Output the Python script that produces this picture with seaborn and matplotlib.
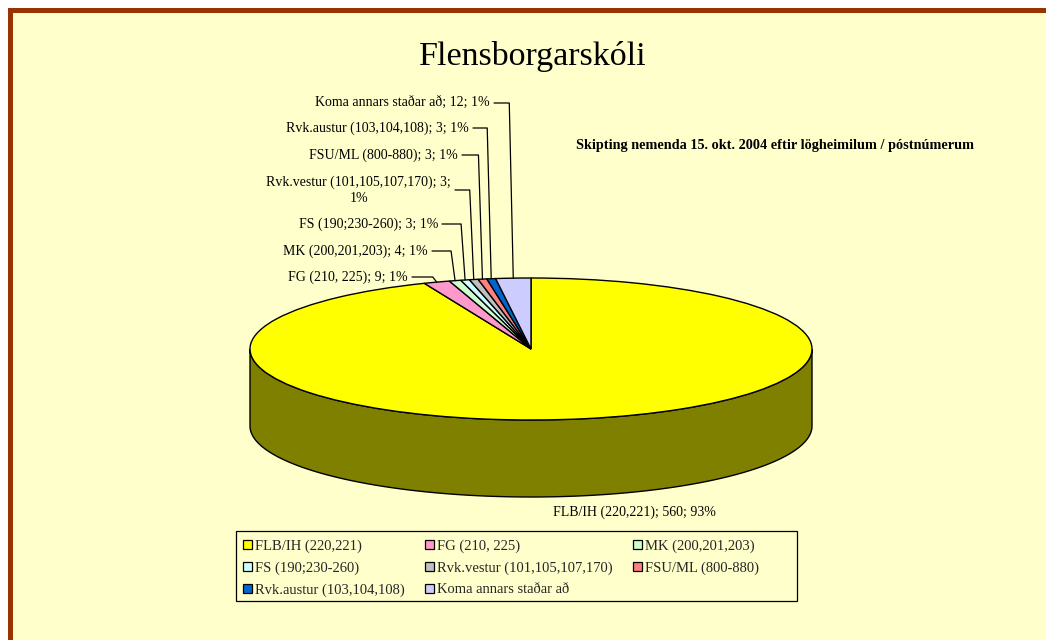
import textwrap
import numpy as np
import matplotlib
matplotlib.use("Agg")
import matplotlib.pyplot as plt
from matplotlib.patches import Rectangle, Patch
from matplotlib.colors import to_rgb
import seaborn as sns

# ---------------- data ----------------
categories = ["FLB/IH (220,221)", "FG (210, 225)", "MK (200,201,203)", "FS (190;230-260)",
              "Rvk.vestur (101,105,107,170)", "FSU/ML (800-880)", "Rvk.austur (103,104,108)",
              "Koma annars staðar að"]
counts = [560, 9, 4, 3, 3, 3, 3, 12]
percent_labels = ["93%", "1%", "1%", "1%", "1%", "1%", "1%", "1%"]
colors = ["#FFFF00", "#FF99CC", "#CCFFCC", "#CCFFFF", "#C0C0C0", "#FF8080", "#0066CC", "#CCCCFF"]
title = "Flensborgarskóli"
subtitle = "Skipting nemenda 15. okt. 2004 eftir lögheimilum / póstnúmerum"

# ---------------- style ----------------
sns.set_theme(style="white")
plt.rcParams["font.family"] = ["Liberation Serif", "DejaVu Serif"]

W, H = 1046, 640
BG = "#FFFFCC"
BORDER = "#993300"
fig = plt.figure(figsize=(W / 100, H / 100), dpi=100, facecolor="white")
fig.add_artist(Rectangle((9.5 / W, -0.1), 2.0, (H - 9.5) / H + 0.1, transform=fig.transFigure,
                         facecolor=BG, edgecolor=BORDER, lw=3.6, zorder=-5))

# pie layout in pixels (top-origin)
CX, CY, RX, RY, DEPTH = 531, 349, 281, 71, 77
ax = fig.add_axes([0, 0, 1, 1])
ax.patch.set_visible(False)


def px(x, y):
    return (x - CX) / RX, (CY - y) / RY


LW = 1.0
wedges, _ = ax.pie(counts, colors=colors, startangle=90, counterclock=False, radius=1,
                   wedgeprops=dict(edgecolor="black", linewidth=LW, zorder=3))
ax.set_aspect("auto")
ax.set_xlim(px(0, 0)[0], px(W, 0)[0])
ax.set_ylim(px(0, H)[1], px(0, 0)[1])
ax.axis("off")

# 3D side of the pie (front half), darker shade of each slice colour
d = DEPTH / RY
for w, c in zip(wedges, colors):
    t1, t2 = w.theta1, w.theta2
    for k in (-360, 0, 360):
        lo, hi = max(t1, 180 + k), min(t2, 360 + k)
        if lo < hi:
            a = np.radians(np.linspace(lo, hi, 300))
            xs = np.concatenate([np.cos(a), np.cos(a[::-1])])
            ys = np.concatenate([np.sin(a), np.sin(a[::-1]) - d])
            shade = tuple(0.5 * v for v in to_rgb(c))
            ax.fill(xs, ys, facecolor=shade, edgecolor="black", lw=LW, zorder=2)

# data labels
FS_LAB = 10
labels = [textwrap.fill(f"{n}; {v}; {p}", width=33) for n, v, p in zip(categories, counts, percent_labels)]
label_px = [(553, 512), (408, 277), (428, 251), (438, 224), (451, 190), (458, 155), (469, 128), (490, 103)]
for i, (lab, (lx, ly), w) in enumerate(zip(labels, label_px, wedges)):
    tx, ty = px(lx, ly)
    if i == 0:
        ax.text(tx, ty, lab, ha="left", va="center", fontsize=FS_LAB, color="black")
        continue
    ax.text(tx, ty, lab, ha="right", va="center", multialignment="center", fontsize=FS_LAB,
            linespacing=1.3, color="black")
    m = np.radians((w.theta1 + w.theta2) / 2)
    axx, ayy = np.cos(m), np.sin(m)
    sx = px(lx + 4, ly)[0]
    kx = axx - 4 / RX
    ax.plot([sx, kx, axx], [ty, ty, ayy], color="black", lw=0.9, zorder=4)

# legend box (frame drawn as in the original, fixed width)
fig.add_artist(Rectangle((236 / W, 1 - 601 / H), 561 / W, 70 / H, transform=fig.transFigure,
                         facecolor=BG, edgecolor="black", lw=0.9, zorder=1))

# legend (row-major order like the original)
ncol = 3
nrows = int(np.ceil(len(categories) / ncol))
order = [r * ncol + c for c in range(ncol) for r in range(nrows) if r * ncol + c < len(categories)]
handles = [Patch(facecolor=colors[i], edgecolor="black", lw=0.9) for i in order]
leg = fig.legend(handles, [categories[i] for i in order], loc="upper left",
                 bbox_to_anchor=(236 / W, 1 - 533 / H),
                 ncol=ncol, frameon=False, fontsize=10.5, handlelength=0.62, handleheight=0.62,
                 handletextpad=0.2, labelspacing=0.58, borderpad=0.45, borderaxespad=0,
                 columnspacing=1.4)
leg.set_zorder(2)

fig.text(533 / W, 1 - 56 / H, title, ha="center", va="center", fontsize=24.5, color="black")
fig.text(576 / W, 1 - 146 / H, subtitle, ha="left", va="center", fontsize=10.3,
         fontweight="bold", color="black")

fig.savefig("out.png", dpi=100, facecolor="white")
